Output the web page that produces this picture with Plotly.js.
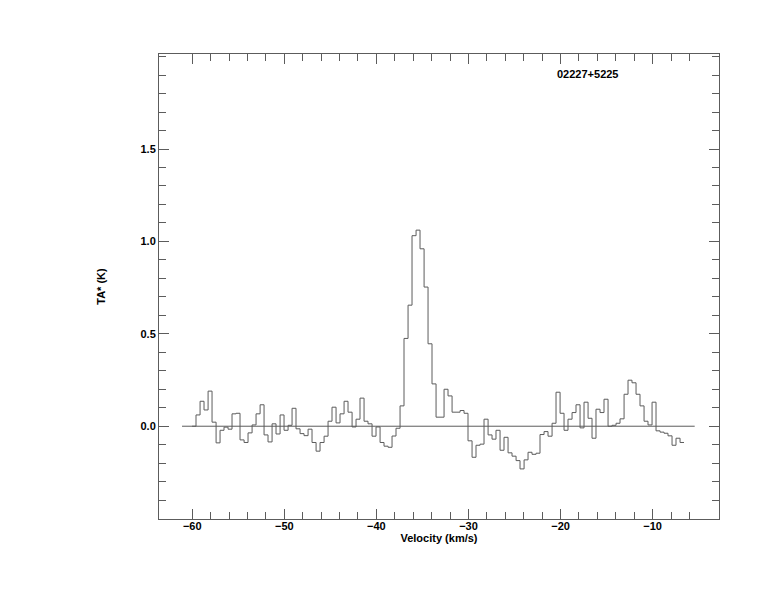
<!DOCTYPE html>
<html>
<head>
<meta charset="utf-8">
<script src="https://cdn.plot.ly/plotly-3.0.1.min.js"></script>
<style>html,body{margin:0;padding:0;background:#fff;}#chart{width:774px;height:612px;}</style>
</head>
<body>
<div id="chart"></div>
<script>
// Channel left edges (km/s); last entry is the right edge of the final channel
const channelEdges = [
-60.02,-59.59,-59.15,-58.72,-58.28,-57.85,-57.41,-56.98,-56.55,-56.11,
-55.68,-55.24,-54.81,-54.37,-53.94,-53.50,-53.07,-52.63,-52.20,-51.77,
-51.33,-50.90,-50.46,-50.03,-49.59,-49.16,-48.73,-48.29,-47.86,-47.42,
-46.99,-46.55,-46.12,-45.68,-45.25,-44.82,-44.38,-43.95,-43.51,-43.08,
-42.64,-42.21,-41.78,-41.34,-40.91,-40.47,-40.04,-39.60,-39.17,-38.73,
-38.30,-37.87,-37.43,-37.00,-36.56,-36.13,-35.69,-35.26,-34.82,-34.39,
-33.96,-33.52,-33.09,-32.65,-32.22,-31.78,-31.35,-30.91,-30.48,-30.05,
-29.61,-29.18,-28.74,-28.31,-27.87,-27.44,-27.01,-26.57,-26.14,-25.70,
-25.27,-24.83,-24.40,-23.96,-23.53,-23.10,-22.66,-22.23,-21.79,-21.36,
-20.92,-20.49,-20.05,-19.62,-19.19,-18.75,-18.32,-17.88,-17.45,-17.01,
-16.58,-16.15,-15.71,-15.28,-14.84,-14.41,-13.97,-13.54,-13.10,-12.67,
-12.24,-11.80,-11.37,-10.93,-10.50,-10.06,-9.63,-9.19,-8.76,-8.33,
-7.89,-7.46,-7.02,-6.59
];
// Antenna temperature TA* (K) per channel
const temperature = [
0.000,0.061,0.135,0.088,0.190,0.022,-0.090,-0.022,-0.005,-0.016,
0.067,0.070,-0.074,-0.088,-0.036,0.007,0.067,0.116,-0.047,-0.085,
0.013,-0.042,0.061,-0.022,0.005,0.097,-0.014,-0.040,-0.051,-0.016,
-0.088,-0.135,-0.088,-0.054,0.027,0.103,0.018,0.067,0.135,0.076,
-0.004,0.038,0.152,0.027,0.013,-0.054,-0.004,-0.088,-0.108,-0.114,
-0.053,-0.011,0.110,0.475,0.655,1.031,1.061,0.960,0.753,0.446,
0.229,0.049,0.049,0.200,0.164,0.076,0.076,0.085,0.070,-0.079,
-0.168,-0.103,-0.097,0.038,-0.047,-0.070,-0.022,-0.130,-0.060,-0.144,
-0.162,-0.186,-0.231,-0.182,-0.141,-0.152,-0.146,-0.045,-0.029,-0.054,
0.016,0.184,0.070,-0.022,0.038,0.074,0.116,-0.009,0.130,0.043,
-0.065,0.092,0.074,0.146,0.000,0.005,0.016,0.040,0.173,0.249,
0.235,0.173,0.110,0.027,0.007,0.130,-0.025,-0.032,-0.038,-0.052,
-0.103,-0.065,-0.088
];
// Zero baseline extent
const baselineX = [-61.11, -5.43];
const baselineY = [0, 0];
// Tick labels
const yTickVals = [0, 0.5, 1.0, 1.5];
const sourceName = '02227+5225';

const lineCol = '#5c5c5c';
const tickFont = {family: 'Liberation Sans, Arial, sans-serif', size: 11, color: '#000', weight: 'bold'};

const minorX = [];
for (let v = -60; v <= -6; v += 2) minorX.push(v);

const stepY = temperature.concat([temperature[temperature.length - 1]]);

const traces = [
  {x: baselineX, y: baselineY, type: 'scatter', mode: 'lines',
   line: {color: lineCol, width: 1}, hoverinfo: 'skip', showlegend: false},
  {x: channelEdges, y: stepY, type: 'scatter', mode: 'lines',
   line: {color: lineCol, width: 1, shape: 'hv'}, showlegend: false}
];

const layout = {
  width: 774, height: 612,
  margin: {l: 159, r: 55, t: 54, b: 93, pad: 0},
  paper_bgcolor: '#fff', plot_bgcolor: '#fff',
  showlegend: false,
  xaxis: {
    range: [-63.61, -2.79], autorange: false,
    showline: true, linecolor: lineCol, linewidth: 1, mirror: 'ticks',
    ticks: 'inside', ticklen: 10, tickwidth: 1, tickcolor: lineCol,
    tick0: -60, dtick: 10, ticklabelstandoff: -3,
    minor: {tickmode: 'array', tickvals: minorX, ticks: 'inside', ticklen: 7, tickcolor: lineCol, showgrid: false},
    showgrid: false, zeroline: false,
    tickfont: tickFont,
    title: {text: 'Velocity (km/s)', font: tickFont, standoff: 0},
    automargin: false
  },
  yaxis: {
    range: [-0.502, 2.014], autorange: false,
    showline: true, linecolor: lineCol, linewidth: 1, mirror: 'ticks',
    ticks: 'inside', ticklen: 10, tickwidth: 1, tickcolor: lineCol,
    tickmode: 'array', tickvals: yTickVals, tickformat: '.1f',
    minor: {tick0: 0, dtick: 0.1, ticks: 'inside', ticklen: 7, tickcolor: lineCol, showgrid: false},
    showgrid: false, zeroline: false,
    tickfont: tickFont,
    title: {text: 'TA* (K)', font: tickFont, standoff: 32},
    automargin: false
  },
  annotations: [{
    text: sourceName, xref: 'paper', yref: 'paper', x: 0.765, y: 0.9565,
    xanchor: 'center', yanchor: 'middle', showarrow: false, font: tickFont
  }]
};

Plotly.newPlot('chart', traces, layout, {displayModeBar: false, staticPlot: true});
</script>
</body>
</html>
